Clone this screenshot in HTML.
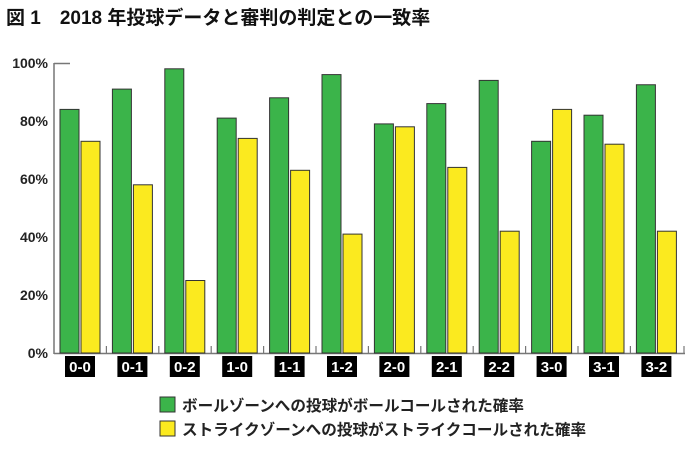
<!DOCTYPE html><html><head><meta charset="utf-8"><style>
body{margin:0;background:#fff;width:698px;height:451px;overflow:hidden;font-family:"Liberation Sans","Noto Sans CJK JP",sans-serif}
</style></head><body>
<svg width="698" height="451" xmlns="http://www.w3.org/2000/svg" font-family="Liberation Sans, Noto Sans CJK JP, sans-serif">
<text x="6" y="24" font-size="19" font-weight="bold" fill="#111">図 1　2018 年投球データと審判の判定との一致率</text>
<g font-size="14" font-weight="bold" fill="#222" text-anchor="end">
<text x="48" y="358">0%</text><text x="48" y="300">20%</text><text x="48" y="242">40%</text><text x="48" y="184">60%</text><text x="48" y="126">80%</text><text x="48" y="68">100%</text>
</g>
<g stroke="#777" stroke-width="1.5">
<line x1="54" y1="63" x2="54" y2="354"/><line x1="54" y1="353.5" x2="685" y2="353.5"/><line x1="54" y1="63.5" x2="70" y2="63.5"/>
</g>
<g id="bars"></g>
<rect x="160" y="397" width="15" height="15" fill="#3bb44a" stroke="#333"/>
<rect x="160" y="421" width="15" height="15" fill="#fbea1f" stroke="#333"/>
<g font-size="15.6" font-weight="bold" fill="#222">
<text x="182" y="411">ボールゾーンへの投球がボールコールされた確率</text>
<text x="182" y="435">ストライクゾーンへの投球がストライクコールされた確率</text>
</g>
</svg>
<script>
var g=[84,91,98,81,88,96,79,86,94,73,82,92.5],y=[73,58,25,74,63,41,78,64,42,84,72,42],l=["0-0","0-1","0-2","1-0","1-1","1-2","2-0","2-1","2-2","3-0","3-1","3-2"];
var s="";
for(var i=0;i<12;i++){var x=60+i*52.4;
var hg=g[i]*2.9,hy=y[i]*2.9;
s+='<rect x="'+x+'" y="'+(353-hg)+'" width="19" height="'+hg+'" fill="#3bb44a" stroke="#333" stroke-width="1"/>';
s+='<rect x="'+(x+21)+'" y="'+(353-hy)+'" width="19" height="'+hy+'" fill="#fbea1f" stroke="#333" stroke-width="1"/>';
if(i>0)s+='<line x1="'+(x-6)+'" y1="346" x2="'+(x-6)+'" y2="354" stroke="#777" stroke-width="1.2"/>';
s+='<rect x="'+(x+5)+'" y="356" width="30" height="21" fill="#000"/><text x="'+(x+20)+'" y="372" fill="#fff" font-size="15" font-weight="bold" text-anchor="middle">'+l[i]+'</text>';}
s+='<line x1="684" y1="346" x2="684" y2="354" stroke="#777" stroke-width="1.2"/>';
document.getElementById("bars").innerHTML=s;
</script>
</body></html>
